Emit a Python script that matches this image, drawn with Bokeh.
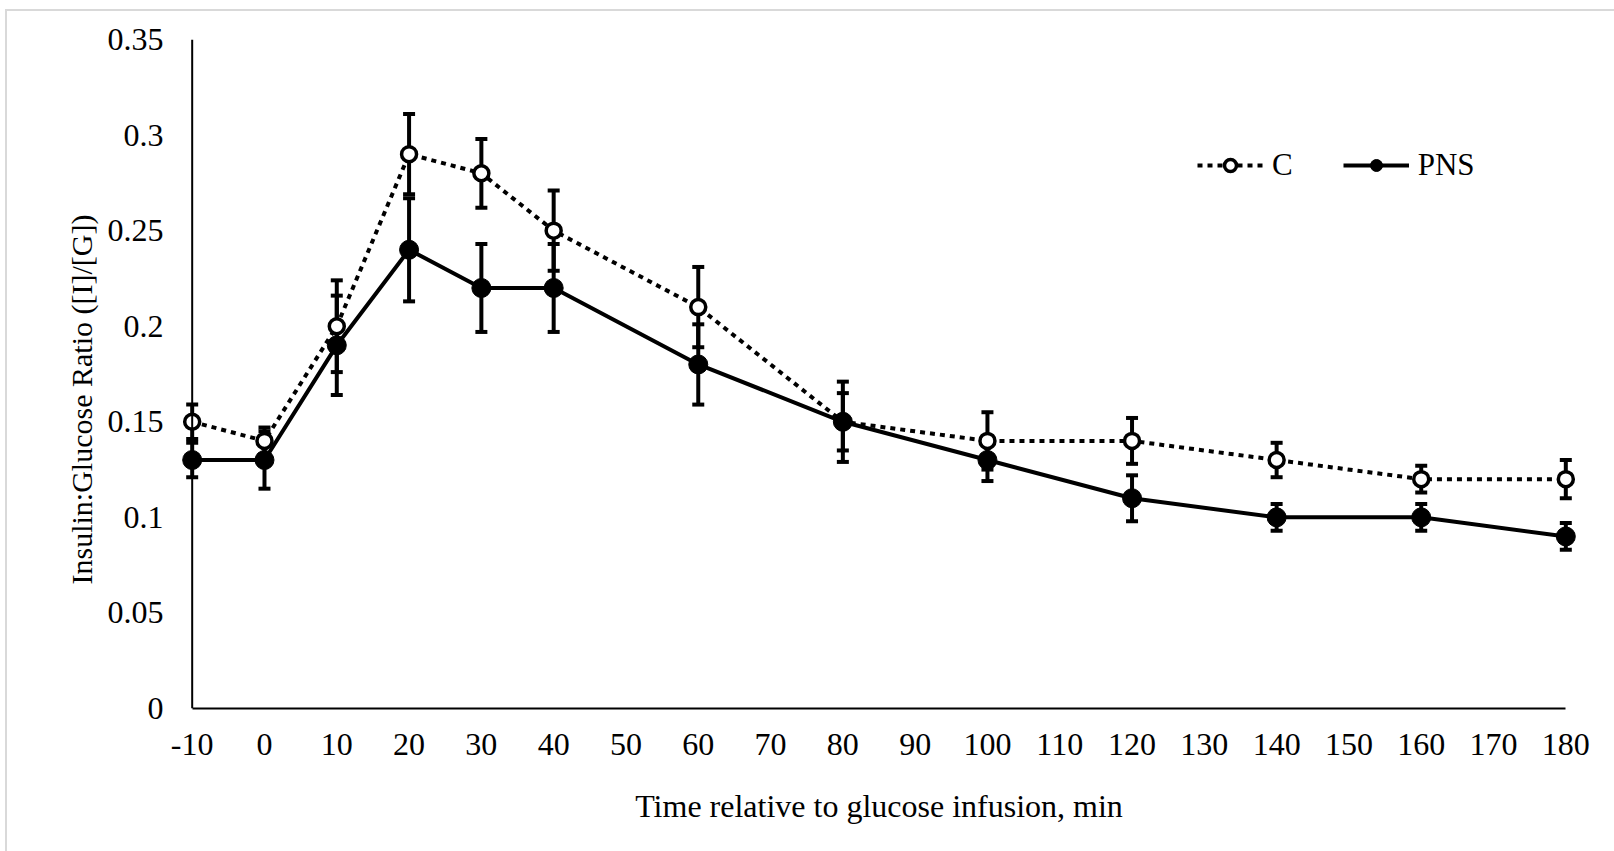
from bokeh.plotting import figure
from bokeh.models import (ColumnDataSource, Range1d, FixedTicker, CustomJSTickFormatter,
                          Whisker, TeeHead, Legend, LegendItem, Title, Span)
from bokeh.embed import file_html
from bokeh.resources import INLINE

# ---- data ----
times = [-10, 0, 10, 20, 30, 40, 60, 80, 100, 120, 140, 160, 180]
c_vals = [0.15, 0.14, 0.20, 0.29, 0.28, 0.25, 0.21, 0.15, 0.14, 0.14, 0.13, 0.12, 0.12]
c_err = [0.009, 0.007, 0.024, 0.021, 0.018, 0.021, 0.021, 0.015, 0.015, 0.012, 0.009, 0.007, 0.010]
pns_vals = [0.13, 0.13, 0.19, 0.24, 0.22, 0.22, 0.18, 0.15, 0.13, 0.11, 0.10, 0.10, 0.09]
pns_err = [0.009, 0.015, 0.026, 0.027, 0.023, 0.023, 0.021, 0.021, 0.011, 0.012, 0.007, 0.007, 0.007]
x_ticks = list(range(-10, 181, 10))
y_ticks = [0, 0.05, 0.1, 0.15, 0.2, 0.25, 0.3, 0.35]
series_names = ["C", "PNS"]
x_title = "Time relative to glucose infusion, min"
y_title = "Insulin:Glucose Ratio ([I]/[G])"

FONT = "Liberation Serif"

src_c = ColumnDataSource(dict(x=times, y=c_vals,
                              upper=[v + e for v, e in zip(c_vals, c_err)],
                              lower=[v - e for v, e in zip(c_vals, c_err)]))
src_p = ColumnDataSource(dict(x=times, y=pns_vals,
                              upper=[v + e for v, e in zip(pns_vals, pns_err)],
                              lower=[v - e for v, e in zip(pns_vals, pns_err)]))

bg_css = {
    "background-color": "white",
    "background-image": "linear-gradient(#d9d9d9, #d9d9d9), linear-gradient(#d9d9d9, #d9d9d9)",
    "background-size": "2px 100%, 100% 2px",
    "background-position": "5px 9px, 5px 9px",
    "background-repeat": "no-repeat",
}

p = figure(width=1614, height=851, output_backend="svg", toolbar_location=None,
           x_range=Range1d(x_ticks[0] - 3, x_ticks[-1] + 3),
           y_range=Range1d(y_ticks[0], y_ticks[-1]),
           min_border_left=170, min_border_right=27, min_border_top=39, min_border_bottom=143,
           styles=bg_css)
p.outline_line_color = None
p.xgrid.visible = False
p.ygrid.visible = False
p.background_fill_color = "white"
p.border_fill_color = None

# axes
p.xaxis.ticker = FixedTicker(ticks=x_ticks)
p.yaxis.ticker = FixedTicker(ticks=y_ticks)
p.xaxis.formatter = CustomJSTickFormatter(code="return String(tick)")
p.yaxis.formatter = CustomJSTickFormatter(code="return String(Number(tick.toFixed(2)))")
for ax in (p.xaxis, p.yaxis):
    ax.axis_line_color = "black"
    ax.axis_line_width = 2
    ax.major_tick_line_color = None
    ax.minor_tick_line_color = None
    ax.major_tick_out = 0
    ax.major_tick_in = 0
    ax.minor_tick_out = 0
    ax.major_label_text_font = FONT
    ax.major_label_text_font_size = "32px"
    ax.major_label_text_color = "black"
p.xaxis.bounds = (x_ticks[0], x_ticks[-1])
p.yaxis.axis_line_color = None
p.yaxis.major_label_standoff = 7
p.xaxis.major_label_standoff = 25
p.xaxis.axis_label = x_title
p.xaxis.axis_label_text_font = FONT
p.xaxis.axis_label_text_font_size = "32px"
p.xaxis.axis_label_text_font_style = "normal"
p.xaxis.axis_label_text_color = "black"
p.xaxis.axis_label_standoff = 30

# y axis line at the first x tick
p.add_layout(Span(location=x_ticks[0], dimension="height", line_color="black", line_width=2))

# y axis title
p.add_layout(Title(text=y_title, align="left", offset=124, text_font=FONT,
                   text_font_size="30px", text_font_style="normal", text_color="black",
                   standoff=13), "left")

# error bars
for src in (src_c, src_p):
    w = Whisker(base="x", upper="upper", lower="lower", source=src,
                line_color="black", line_width=4,
                upper_head=TeeHead(size=12, line_width=4, line_color="black"),
                lower_head=TeeHead(size=12, line_width=4, line_color="black"))
    p.add_layout(w)

c_line = p.line("x", "y", source=src_c, line_color="black", line_width=4,
                line_dash="5 5", line_cap="butt")
p_line = p.line("x", "y", source=src_p, line_color="black", line_width=4)
c_pts = p.scatter("x", "y", source=src_c, marker="circle", size=15,
                  fill_color="white", line_color="black", line_width=3.5)
p_pts = p.scatter("x", "y", source=src_p, marker="circle", size=19,
                  fill_color="black", line_color="black")

legend = Legend(items=[LegendItem(label=series_names[0], renderers=[c_line, c_pts]),
                       LegendItem(label=series_names[1], renderers=[p_line, p_pts])],
                orientation="horizontal", location=(1027, 525),
                glyph_width=66, glyph_height=30, label_standoff=9, spacing=50,
                padding=0, margin=0, border_line_alpha=0, background_fill_alpha=0,
                label_text_font=FONT, label_text_font_size="31px", label_text_color="black")
p.add_layout(legend)

open("out.html", "w").write(file_html(p, INLINE))
